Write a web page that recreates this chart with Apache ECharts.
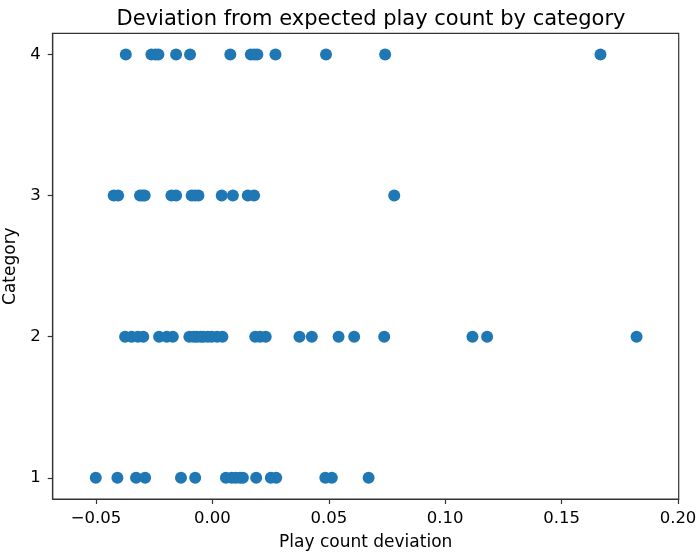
<!DOCTYPE html>
<html>
<head>
<meta charset="utf-8">
<script src="https://cdn.jsdelivr.net/npm/echarts@6/dist/echarts.min.js"></script>
<style>html,body{margin:0;padding:0;background:#fff}#c{width:699px;height:557px}</style>
</head>
<body>
<div id="c"></div>
<script>
var categories = [1, 2, 3, 4];
var cat1 = [-0.0501, -0.0408, -0.0328, -0.0289, -0.0135, -0.0074, 0.0058, 0.0083, 0.0100, 0.0119, 0.0131, 0.0188, 0.0251, 0.0274, 0.0485, 0.0513, 0.0671];
var cat2 = [-0.0375, -0.0347, -0.0320, -0.0297, -0.0229, -0.0196, -0.0170, -0.0099, -0.0080, -0.0067, -0.0050, -0.0039, -0.0020, -0.0003, 0.0020, 0.0043, 0.0184, 0.0205, 0.0229, 0.0374, 0.0427, 0.0542, 0.0609, 0.0738, 0.1117, 0.1180, 0.1822];
var cat3 = [-0.0424, -0.0405, -0.0311, -0.0300, -0.0291, -0.0176, -0.0156, -0.0089, -0.0075, -0.0060, 0.0040, 0.0088, 0.0152, 0.0179, 0.0781];
var cat4 = [-0.0372, -0.0262, -0.0245, -0.0232, -0.0156, -0.0096, 0.0077, 0.0165, 0.0180, 0.0193, 0.0271, 0.0488, 0.0742, 0.1667];
var xTicks = [-0.05, 0, 0.05, 0.10, 0.15, 0.20];
var yTicks = [1, 2, 3, 4];

var groups = [cat1, cat2, cat3, cat4];
var points = [];
groups.forEach(function (g, i) {
  g.forEach(function (v) { points.push([v, categories[i]]); });
});

var font = 'DejaVu Sans';
var chart = echarts.init(document.getElementById('c'), null, {renderer: 'canvas'});
chart.setOption({
  animation: false,
  backgroundColor: '#fff',
  title: {
    text: 'Deviation from expected play count by category',
    left: 366, top: 4, textAlign: 'center',
    textStyle: {fontFamily: font, fontSize: 21, fontWeight: 'normal', color: '#000'}
  },
  grid: {left: 52.7, right: 20.3, top: 33.3, bottom: 58, containLabel: false, outerBoundsMode: 'none',
    show: true, borderColor: '#333', borderWidth: 1.2, backgroundColor: 'transparent'},
  xAxis: {
    type: 'value', min: -0.0686, max: 0.2003,
    name: 'Play count deviation', nameLocation: 'middle', nameGap: 35,
    nameTextStyle: {fontFamily: font, fontSize: 17, color: '#000'},
    splitLine: {show: false},
    axisLine: {show: true, onZero: false, lineStyle: {color: '#333', width: 1.2}},
    axisTick: {show: true, customValues: xTicks, length: 5, lineStyle: {color: '#333', width: 1.2}},
    axisLabel: {customValues: xTicks, fontFamily: font, fontSize: 16.5, color: '#000', margin: 11,
      formatter: function (v) { return (v < 0 ? '\u2212' : '') + Math.abs(v).toFixed(2); }}
  },
  yAxis: {
    type: 'value', min: 0.85, max: 4.15,
    name: 'Category', nameLocation: 'middle', nameGap: 32, nameRotate: 90,
    nameTextStyle: {fontFamily: font, fontSize: 17, color: '#000'},
    splitLine: {show: false},
    axisLine: {show: true, onZero: false, lineStyle: {color: '#333', width: 1.2}},
    axisTick: {show: true, customValues: yTicks, length: 5, lineStyle: {color: '#333', width: 1.2}},
    axisLabel: {customValues: yTicks, fontFamily: font, fontSize: 16.5, color: '#000', margin: 12}
  },
  series: [{
    type: 'scatter',
    data: points,
    symbolSize: 12,
    itemStyle: {color: '#1f77b4', opacity: 1}
  }]
});
</script>
</body>
</html>
